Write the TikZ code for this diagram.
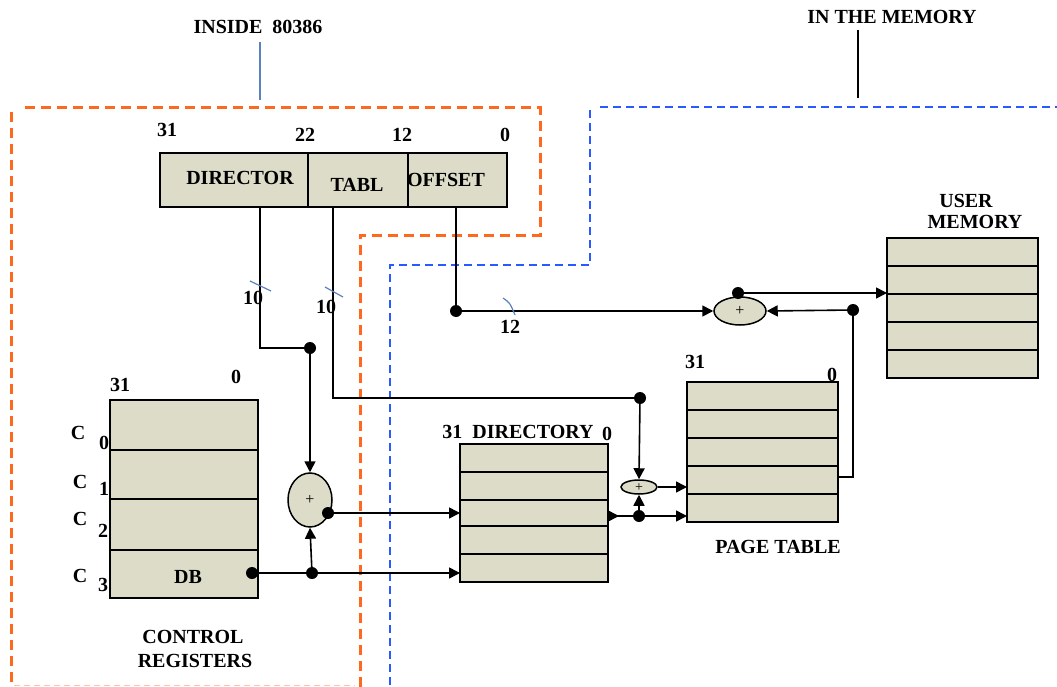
\documentclass[tikz,border=0pt]{standalone}
\usepackage{fontspec}
\setmainfont{Liberation Serif}
\usetikzlibrary{arrows.meta,shapes.geometric}
\definecolor{boxfill}{RGB}{220,220,200}
\definecolor{orangeline}{RGB}{255,105,30}
\definecolor{blueline}{RGB}{40,90,255}
\definecolor{tickblue}{RGB}{90,130,190}
\tikzset{
  lbl/.style={font=\fontsize{20}{22}\selectfont\bfseries, inner sep=0pt},
  regbox/.style={draw=black, line width=1.8pt, fill=boxfill, inner sep=0pt},
  wire/.style={draw=black, line width=1.6pt},
  dot/.style={circle, fill=black, inner sep=0pt, minimum size=12pt},
  adder/.style={ellipse, draw=black, line width=1.5pt, fill=boxfill, inner sep=0pt, font=\fontsize{16}{16}\selectfont},
  orangedash/.style={draw=orangeline, line width=3pt, dash pattern=on 10pt off 6pt},
  bluedash/.style={draw=blueline, line width=2.8pt, dash pattern=on 8pt off 5pt},
  tick/.style={draw=tickblue, line width=1.2pt},
  >={Triangle[length=11pt,width=11pt]}
}
\begin{document}
\begin{tikzpicture}[x=1pt,y=-1pt]
\useasboundingbox[fill=white] (0,0) rectangle (1057,687);

% region boundaries
\draw[orangedash] (25,108) -- (540,108) -- (540,235) -- (360,235) -- (360,687);
\draw[orangedash] (11,112) -- (11,687);
\draw[draw=orangeline!40, line width=1pt, dash pattern=on 6pt off 4pt] (14,685) -- (355,685);
\draw[bluedash] (600,107) -- (1057,107);
\draw[bluedash] (590,110) -- (590,265) -- (390,265) -- (390,687);

% headings
\node[lbl] (inside) at (258,27) {INSIDE\ \ 80386};
\node[lbl] (inmem) at (892,17) {IN THE MEMORY};
\coordinate (insideEnd) at (260,100);
\coordinate (inmemEnd) at (858,98);
\draw[draw=tickblue, line width=1.4pt] (inside.south -| insideEnd) ++(0,8) -- (insideEnd);
\draw[line width=1.5pt] (inmem.south -| inmemEnd) ++(0,6) -- (inmemEnd);

% linear address register
\node[regbox, minimum width=347pt, minimum height=54pt] (addr) at (333.5,180) {};
\draw[line width=1.8pt] (308,153) -- (308,207);
\draw[line width=1.8pt] (408,153) -- (408,207);
\node[lbl] at (167,130) {31};
\node[lbl] at (305,135) {22};
\node[lbl] at (402,135) {12};
\node[lbl] at (505,135) {0};
\node[lbl] (fdir) at (240,178) {DIRECTOR};
\node[lbl] (ftab) at (357,185) {TABL};
\node[lbl] (foff) at (446,180) {OFFSET};

% control registers
\node[regbox, minimum width=148pt, minimum height=198pt] (cr) at (184,499) {};
\foreach \yy in {450,499,550} \draw[line width=1.8pt] (110,\yy) -- (258,\yy);
\node[lbl] at (120,385) {31};
\node[lbl] at (236,377) {0};
\node[lbl] at (78,433) {C};  \node[lbl] at (104,443) {0};
\node[lbl] at (80,482) {C};  \node[lbl] at (104,489) {1};
\node[lbl] at (80,519) {C};  \node[lbl] at (103,531) {2};
\node[lbl] at (80,576) {C};  \node[lbl] at (103,585) {3};
\node[lbl] (dbtxt) at (188,577) {DB};
\node[lbl] at (193,637) {CONTROL};
\node[lbl] at (195,661) {REGISTERS};

% directory
\node[regbox, minimum width=148pt, minimum height=138pt] (dir) at (534,513) {};
\foreach \yy in {472,500,526,554} \draw[line width=1.8pt] (460,\yy) -- (608,\yy);
\node[lbl] at (518,432) {31\ \ DIRECTORY};
\node[lbl] at (607,434) {0};

% page table
\node[regbox, minimum width=151pt, minimum height=140pt] (pt) at (762.5,452) {};
\foreach \yy in {410,438,466,494} \draw[line width=1.8pt] (687,\yy) -- (838,\yy);
\node[lbl] at (695,362) {31};
\node[lbl] at (832,375) {0};
\node[lbl] at (778,547) {PAGE TABLE};

% user memory
\node[regbox, minimum width=151pt, minimum height=140pt] (um) at (962.5,308) {};
\foreach \yy in {266,294,322,350} \draw[line width=1.8pt] (887,\yy) -- (1038,\yy);
\node[lbl] at (966,201) {USER};
\node[lbl] at (975,222) {MEMORY};

% coordinates
\coordinate (sdir) at (260,207);
\coordinate (stab) at (333,207);
\coordinate (soff) at (456,207);
\coordinate (dirIn1) at (460,513);
\coordinate (dirIn2) at (460,573);
\coordinate (dirOut) at (608,516);
\coordinate (ptIn1) at (687,487);
\coordinate (ptIn2) at (687,516);
\coordinate (ptOut) at (838,477);
\coordinate (umIn) at (887,293);

% dots
\node[dot] (d1) at (310,348) {};
\node[dot] (d2) at (640,398) {};
\node[dot] (d3) at (456,311) {};
\node[dot] (d4) at (853,310) {};
\node[dot] (db) at (252,573) {};
\node[dot] (j1) at (312,573) {};
\node[dot] (j2) at (639,516) {};

% adders
\node[adder, minimum width=44pt, minimum height=54pt] (a1) at (310,500) {+};
\node[adder, minimum width=36pt, minimum height=14pt] (a2) at (639,487) {};
\node[font=\fontsize{14}{14}\selectfont, inner sep=0pt] (a2plus) at (639,488) {+};
\node[adder, minimum width=52pt, minimum height=28pt] (a3) at (740,311) {+};
\node[dot] (a1o) at (328,513) {};
\node[dot] (a3o) at (738,293) {};

% wires
\draw[wire] (sdir) |- (d1);
\draw[wire] (stab) |- (d2);
\draw[wire] (soff) -- (d3);
\draw[wire,->] (d1) -- (a1.north);
\draw[wire,->] (a1o) -- (dirIn1);
\draw[wire,->] (db) -- (dirIn2);
\draw[wire,->] (j1) -- (a1.south);
\draw[wire,{Triangle[reversed,length=11pt,width=11pt]}-] (dirOut) -- (j2);
\draw[wire,->] (j2) -- (ptIn2);
\draw[wire,->] (j2) -- (a2.south);
\draw[wire,->] (d2) -- (a2.north);
\draw[wire,->] (a2.east) -- (ptIn1);
\draw[wire,->] (d3) -- (a3.west);
\draw[wire,->] (d4) -- (a3.east);
\draw[wire] (ptOut) -| (d4);
\draw[wire,->] (a3o) -- (umIn);

% bus width ticks and labels
\draw[tick] (250,281) -- (271,291);
\draw[tick] (325,287) -- (343,297);
\draw[tick] (503,298) .. controls (510,303) .. (515,315);
\node[lbl] at (253,298) {10};
\node[lbl] at (326,307) {10};
\node[lbl] at (510,327) {12};
\end{tikzpicture}
\end{document}
